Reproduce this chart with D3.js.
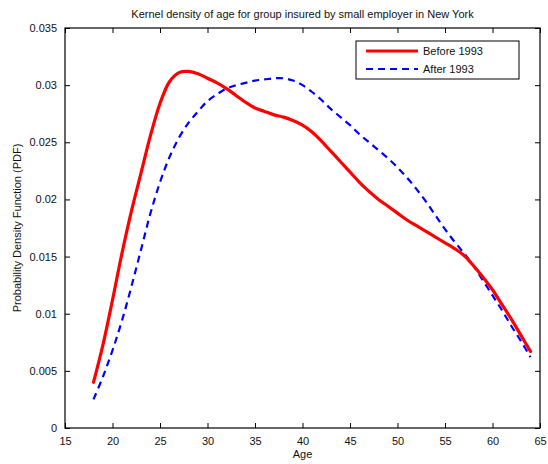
<!DOCTYPE html>
<html>
<head>
<meta charset="utf-8">
<script src="https://cdn.jsdelivr.net/npm/d3@7"></script>
<style>
  html, body { margin: 0; padding: 0; background: #fff; }
  svg { display: block; font-family: "Liberation Sans", Arial, sans-serif; }
</style>
</head>
<body>
<svg id="chart" width="548" height="464"></svg>
<script>
// Ages at which the density estimates are sampled
const ages = [18,19,20,21,22,23,24,25,26,27,28,29,30,31,32,33,34,35,36,37,38,39,40,41,
              42,43,44,45,46,47,48,49,50,51,52,53,54,55,56,57,58,59,60,61,62,63,64];

// Kernel density estimates, group insured before 1993
const before1993 = [0.0040,0.0073,0.0112,0.0153,0.0190,0.0223,0.0256,0.0284,0.0303,0.0311,
                    0.0312,0.0310,0.0306,0.0302,0.0297,0.0291,0.0285,0.0280,0.0277,0.0274,
                    0.0272,0.0269,0.0265,0.0259,0.0251,0.0242,0.0233,0.0224,0.0215,0.0207,
                    0.0200,0.0194,0.0188,0.0182,0.0177,0.0172,0.0167,0.0162,0.0157,0.0151,
                    0.0142,0.0132,0.0121,0.0108,0.0095,0.0081,0.0067];

// Kernel density estimates, group insured after 1993
const after1993 = [0.0025,0.0045,0.0068,0.0094,0.0124,0.0156,0.0188,0.0215,0.0237,0.0254,
                   0.0267,0.0277,0.0286,0.0292,0.0297,0.0300,0.0302,0.0304,0.0305,0.0306,
                   0.0306,0.0304,0.0300,0.0294,0.0287,0.0279,0.0272,0.0265,0.0257,0.0250,
                   0.0243,0.0236,0.0228,0.0219,0.0209,0.0198,0.0186,0.0174,0.0163,0.0153,
                   0.0142,0.0129,0.0116,0.0103,0.0089,0.0076,0.0062];

const xTicks = [15,20,25,30,35,40,45,50,55,60,65];
const yTicks = [0,0.005,0.01,0.015,0.02,0.025,0.03,0.035];
const seriesNames = ["Before 1993", "After 1993"];

const svg = d3.select("#chart");
const x0 = 65, x1 = 540, y0 = 428, y1 = 28;

const x = d3.scaleLinear().domain([15, 65]).range([x0, x1]);
const y = d3.scaleLinear().domain([0, 0.035]).range([y0, y1]);

const fmtY = d => d === 0 ? "0" : String(+d.toFixed(3));
const tickLen = 5;

// Bottom and left axes with inward ticks
const gx = svg.append("g").attr("transform", `translate(0,${y0})`)
  .call(d3.axisBottom(x).tickValues(xTicks).tickSizeInner(-tickLen).tickSizeOuter(0).tickPadding(9));
const gy = svg.append("g").attr("transform", `translate(${x0},0)`)
  .call(d3.axisLeft(y).tickValues(yTicks).tickFormat(fmtY).tickSizeInner(-tickLen).tickSizeOuter(0).tickPadding(8));
// Top and right mirror ticks
const gt = svg.append("g").attr("transform", `translate(0,${y1})`)
  .call(d3.axisTop(x).tickValues(xTicks).tickSizeInner(-tickLen).tickSizeOuter(0).tickFormat(""));
const gr = svg.append("g").attr("transform", `translate(${x1},0)`)
  .call(d3.axisRight(y).tickValues(yTicks).tickSizeInner(-tickLen).tickSizeOuter(0).tickFormat(""));

[gx, gy, gt, gr].forEach(g => {
  g.select(".domain").remove();
  g.selectAll("line").attr("stroke", "#000").attr("stroke-width", 1);
  g.selectAll("text").attr("fill", "#111").style("font-size", "11px")
    .style("font-family", "'Liberation Sans', Arial, sans-serif");
});

// Box around the plot area
svg.append("rect")
  .attr("x", x0).attr("y", y1).attr("width", x1 - x0).attr("height", y0 - y1)
  .attr("fill", "none").attr("stroke", "#000").attr("stroke-width", 1.2);

// Density curves
const line = d3.line()
  .x(d => x(d[0])).y(d => y(d[1]))
  .curve(d3.curveCatmullRom.alpha(0.5));

svg.append("path")
  .datum(ages.map((a, i) => [a, after1993[i]]))
  .attr("d", line).attr("fill", "none")
  .attr("stroke", "#0000ff").attr("stroke-width", 2.2)
  .attr("stroke-dasharray", "7,5");

svg.append("path")
  .datum(ages.map((a, i) => [a, before1993[i]]))
  .attr("d", line).attr("fill", "none")
  .attr("stroke", "#ff0000").attr("stroke-width", 3.2)
  .attr("stroke-linecap", "round");

// Title and axis labels
svg.append("text").attr("x", (x0 + x1) / 2).attr("y", 18)
  .attr("text-anchor", "middle").style("font-size", "11px").attr("fill", "#111")
  .text("Kernel density of age for group insured by small employer in New York");

svg.append("text").attr("x", (x0 + x1) / 2).attr("y", 458)
  .attr("text-anchor", "middle").style("font-size", "11px").attr("fill", "#111")
  .text("Age");

svg.append("text")
  .attr("transform", `translate(21,${(y0 + y1) / 2}) rotate(-90)`)
  .attr("text-anchor", "middle").style("font-size", "11px").attr("fill", "#111")
  .text("Probability Density Function (PDF)");

// Legend
const lg = svg.append("g");
lg.append("rect").attr("x", 356).attr("y", 41).attr("width", 163).attr("height", 38)
  .attr("fill", "#fff").attr("stroke", "#000").attr("stroke-width", 1);
const legendStyles = [
  {color: "#ff0000", width: 3.2, dash: null},
  {color: "#0000ff", width: 2.2, dash: "7,5"}
];
seriesNames.forEach((name, i) => {
  const ly = 51 + i * 18;
  const s = legendStyles[i];
  lg.append("line").attr("x1", 366).attr("x2", 418).attr("y1", ly).attr("y2", ly)
    .attr("stroke", s.color).attr("stroke-width", s.width)
    .attr("stroke-dasharray", s.dash);
  lg.append("text").attr("x", 423).attr("y", ly + 4)
    .style("font-size", "11px").attr("fill", "#111").text(name);
});
</script>
</body>
</html>
